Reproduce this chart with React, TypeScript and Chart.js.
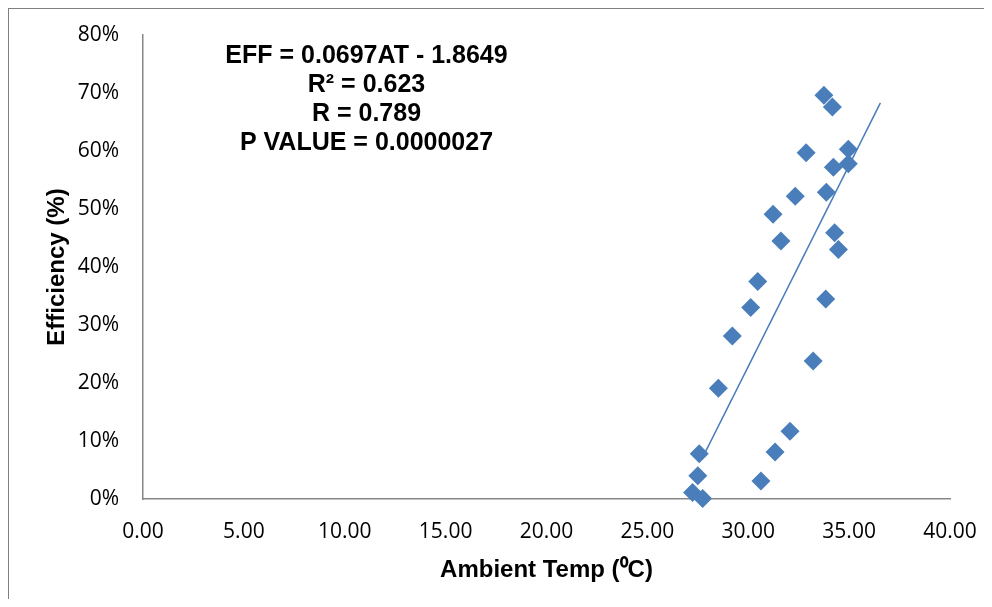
import React, { useEffect, useRef } from "react";
import { Chart, registerables } from "chart.js";

Chart.register(...registerables);

const ambientTemp = [
  33.75, 34.17, 32.87, 34.96, 34.22, 34.96, 32.33, 33.87, 31.23, 31.62, 34.28, 34.47,
  30.47, 30.12, 33.84, 29.21, 33.22, 28.52, 32.07, 31.33, 27.57, 27.5, 30.63, 27.24, 27.74,
];
const efficiency = [
  69.6, 67.6, 59.7, 60.3, 57.2, 57.8, 52.2, 52.9, 49.1, 44.5, 45.9, 43.0,
  37.5, 33.0, 34.5, 28.1, 23.8, 19.1, 11.7, 8.1, 7.8, 4.0, 3.1, 1.1, 0.1,
];
const trendX = [27.86, 36.55];
const trendY = [8.0, 68.3];
const xTicks = [0, 5, 10, 15, 20, 25, 30, 35, 40];
const yTicks = [0, 10, 20, 30, 40, 50, 60, 70, 80];
const annotationLines = [
  "EFF = 0.0697AT - 1.8649",
  "R\u00B2 = 0.623",
  "R = 0.789",
  "P VALUE = 0.0000027",
];
const xTitle = "Ambient Temp (\u2070C)";
const yTitle = "Efficiency (%)";

const BLUE = "#4A7EBB";
const AXIS = "#878787";
const W = 983;
const H = 590;

const annotationPlugin = {
  id: "annotationText",
  afterDraw(chart: any) {
    const { ctx, chartArea } = chart;
    ctx.save();
    ctx.font = "bold 25px 'Liberation Sans', Arial, sans-serif";
    ctx.fillStyle = "#000";
    ctx.textAlign = "center";
    ctx.textBaseline = "alphabetic";
    const cx = chartArea.left + 223.5;
    annotationLines.forEach((t, i) => {
      ctx.fillText(t, cx, chartArea.top + 27.6 + i * 29.2);
    });
    ctx.restore();
  },
};

export default function App() {
  const ref = useRef<HTMLCanvasElement>(null);
  useEffect(() => {
    if (!ref.current) return;
    const chart = new Chart(ref.current, {
      type: "scatter",
      data: {
        datasets: [
          {
            label: "Trend",
            data: trendX.map((x, i) => ({ x, y: trendY[i] })),
            showLine: true,
            borderColor: BLUE,
            borderWidth: 1.5,
            pointRadius: 0,
            fill: false,
          } as any,
          {
            label: "Efficiency",
            data: ambientTemp.map((x, i) => ({ x, y: efficiency[i] })),
            pointStyle: "rectRot",
            pointRadius: 9.5,
            pointHoverRadius: 9.5,
            backgroundColor: BLUE,
            borderColor: BLUE,
            borderWidth: 0,
            clip: false,
          } as any,
        ],
      },
      options: {
        animation: false,
        responsive: false,
        maintainAspectRatio: false,
        devicePixelRatio: 1,
        layout: { padding: { top: 26, right: 42, left: 0, bottom: 0 } },
        plugins: { legend: { display: false }, tooltip: { enabled: false } },
        scales: {
          x: {
            type: "linear",
            min: 0,
            max: 40,
            afterBuildTicks: (s: any) => {
              s.ticks = xTicks.map((v) => ({ value: v }));
            },
            afterFit: (s: any) => {
              s.height = 100;
              s.paddingLeft = 0;
              s.paddingRight = 0;
            },
            grid: { display: false, drawTicks: false },
            border: { display: true, color: AXIS, width: 1.5 },
            ticks: {
              padding: 20,
              color: "#000",
              font: { family: "'Open Sans'", size: 21 },
              callback: (v: any) => Number(v).toFixed(2),
            },
            title: {
              display: true,
              text: xTitle,
              color: "#000",
              font: { family: "'Liberation Sans', Arial, sans-serif", size: 24, weight: "bold" },
              padding: { top: 0, bottom: 14 },
            },
          },
          y: {
            type: "linear",
            min: 0,
            max: 80,
            afterBuildTicks: (s: any) => {
              s.ticks = yTicks.map((v) => ({ value: v }));
            },
            afterFit: (s: any) => {
              s.width = 134;
              s.paddingTop = 0;
              s.paddingBottom = 0;
            },
            grid: { display: false, drawTicks: false },
            border: { display: true, color: AXIS, width: 1.5 },
            ticks: {
              padding: 24,
              color: "#000",
              font: { family: "'Open Sans'", size: 21 },
              callback: (v: any) => v + "%",
            },
            title: {
              display: true,
              text: yTitle,
              color: "#000",
              font: { family: "'Liberation Sans', Arial, sans-serif", size: 24, weight: "bold" },
              padding: { top: 34, bottom: 0 },
            },
          },
        },
      },
      plugins: [annotationPlugin],
    });
    return () => chart.destroy();
  }, []);

  return (
    <div
      style={{
        width: 984,
        height: 591,
        boxSizing: "border-box",
        borderLeft: "1px solid #808080",
        borderTop: "1px solid #808080",
        background: "#fff",
        overflow: "hidden",
      }}
    >
      <canvas ref={ref} width={W} height={H} style={{ display: "block" }} />
    </div>
  );
}
